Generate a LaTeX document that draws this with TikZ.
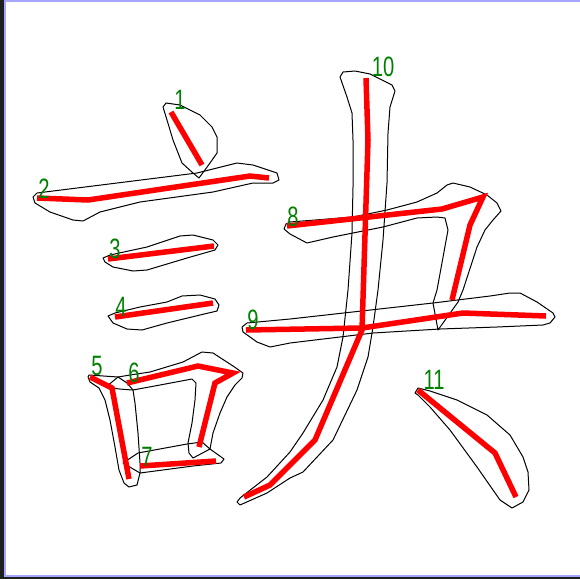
\documentclass[tikz,border=0pt]{standalone}
\usepackage{fontspec}
\setmainfont{Liberation Sans}
\begin{document}
\begin{tikzpicture}[x=1pt,y=-1pt,
  outline/.style={draw=black,line width=1pt,line join=round},
  redline/.style={draw=red,line width=5.5pt},
  num/.style={text=green!50!black,font=\fontsize{28}{28}\selectfont,xscale=0.72,inner sep=0pt}]
\useasboundingbox (0,0) rectangle (580,579);
% frame
\fill[white] (0,0) rectangle (580,579);
\fill[black!88] (0,0) rectangle (4,579);
\fill[black!88] (0,577) rectangle (580,579);
\fill[blue!35] (4,0) rectangle (5.7,577);
\fill[blue!35] (4,0) rectangle (580,1.7);
\fill[blue!35] (4,575.2) rectangle (580,577);
% stroke 1
\draw[outline] (166,103) -- (180,105) -- (200,115) -- (212,127) -- (217,137) -- (217,153) -- (210,163) -- (199,178) -- (193,173) -- (182,163) -- (173,140) -- (167,120) -- (163,107) -- cycle;
% stroke 2
\draw[outline] (33,197) -- (37,193) -- (197,173) -- (237,163) -- (253,165) -- (277,173) -- (279,180) -- (273,183) -- (253,183) -- (213,192) -- (140,202) -- (100,212) -- (83,221) -- (73,220) -- (50,212) -- (35,203) -- cycle;
% stroke 3
\draw[outline] (103,258) -- (110,255) -- (147,247) -- (180,236) -- (193,235) -- (213,240) -- (218,245) -- (215,250) -- (187,258) -- (147,270) -- (133,271) -- (113,267) -- (105,262) -- cycle;
% stroke 4
\draw[outline] (108,316) -- (115,313) -- (140,307) -- (167,302) -- (182,296) -- (200,295) -- (215,299) -- (219,305) -- (217,311) -- (200,315) -- (167,323) -- (142,330) -- (127,329) -- (113,323) -- cycle;
% stroke 5
\draw[outline] (89,375) -- (118,377) -- (127,383) -- (133,390) -- (135,403) -- (138,433) -- (140,463) -- (140,473) -- (137,485) -- (129,487) -- (124,483) -- (119,470) -- (115,447) -- (110,420) -- (105,400) -- (99,388) -- (90,382) -- (88,377) -- cycle;
\draw[outline] (106,387) -- (118,377);
\draw[outline] (106,387) .. controls (118,389) .. (133,390);
% stroke 6
\draw[outline] (118,377) -- (130,375) -- (150,372) -- (183,362) -- (202,352) -- (213,353) -- (233,366) -- (243,373) -- (242,378) -- (235,385) -- (227,397) -- (220,413) -- (213,433) -- (210,449);
\draw[outline] (133,390) -- (160,385) -- (192,379) -- (196,383) -- (195,400) -- (192,423) -- (188,443) -- (189,453) -- (193,458) -- (210,449);
% stroke 7
\draw[outline] (123,463) -- (138,453) -- (187,444) -- (202,442) -- (210,449) -- (224,459) -- (221,463) -- (193,466) -- (140,473) -- cycle;
% stroke 9
\draw[outline] (242,327) -- (247,323) -- (290,319) -- (433,303) -- (490,296) -- (510,293) -- (520,293) -- (537,302) -- (553,313) -- (555,317) -- (550,323) -- (543,325) -- (497,327) -- (440,329) -- (373,333) -- (290,343) -- (270,347) -- (257,342) -- (243,332) -- cycle;
% stroke 8
\draw[outline] (286,224) -- (290,222) -- (353,217) -- (387,210) -- (417,202) -- (437,193) -- (447,185) -- (453,183) -- (470,187) -- (487,195) -- (497,203) -- (501,211) -- (493,220) -- (485,230) -- (477,247) -- (463,290) -- (458,302) -- (438,330) -- (433,303) -- (437,290) -- (448,230) -- (445,218) -- (437,217) -- (417,218) -- (383,227) -- (353,233) -- (333,237) -- (307,243) -- (290,234) -- (284,229) -- cycle;
% stroke 10
\draw[outline] (340,77) -- (343,72) -- (355,71) -- (370,74) -- (392,85) -- (395,91) -- (390,107) -- (388,133) -- (387,183) -- (383,240) -- (378,290) -- (373,327) -- (368,357) -- (357,390) -- (333,440) -- (303,472) -- (290,478) -- (267,493) -- (240,505) -- (237,502) -- (240,498) -- (267,477) -- (290,452) -- (303,433) -- (323,400) -- (337,367) -- (343,337) -- (348,290) -- (352,233) -- (353,187) -- (353,140) -- (352,113) -- (347,97) -- cycle;
% stroke 11
\draw[outline] (415,393) -- (418,388) -- (430,391) -- (457,400) -- (487,415) -- (510,435) -- (523,457) -- (528,472) -- (529,490) -- (523,502) -- (512,508) -- (500,500) -- (477,467) -- (450,430) -- (430,407) -- (418,395) -- cycle;
% red median lines
\draw[redline] (171,112) -- (202,165);
\draw[redline] (37,198) -- (88,200) -- (250,176) -- (269,178);
\draw[redline] (108,259) -- (214,246);
\draw[redline] (115,317) -- (213,303);
\draw[redline] (90,377) -- (112,388) -- (129,479);
\draw[redline] (127,383) -- (198,366) -- (233,373) -- (215,383) -- (199,447);
\draw[redline] (140,466) -- (216,461);
\draw[redline] (287,226) -- (442,209) -- (483,197) -- (470,225) -- (452,300);
\draw[redline] (246,330) -- (362,328) -- (463,313) -- (546,316);
\draw[redline] (366,78) -- (368,140) -- (362,330) -- (315,440) -- (270,485) -- (244,497);
\draw[redline] (418,390) -- (495,453) -- (516,497);
% labels
\node[num] (n1) at (180,100) {1};
\node[num] (n2) at (44,189) {2};
\node[num] (n3) at (115,249) {3};
\node[num] (n4) at (121,307) {4};
\node[num] (n5) at (97,366) {5};
\node[num] (n6) at (134,373) {6};
\node[num] (n7) at (147,457) {7};
\node[num] (n8) at (293,217) {8};
\node[num] (n9) at (253,320) {9};
\node[num] (n10) at (383,67) {10};
\node[num] (n11) at (434,380) {11};
\end{tikzpicture}
\end{document}
